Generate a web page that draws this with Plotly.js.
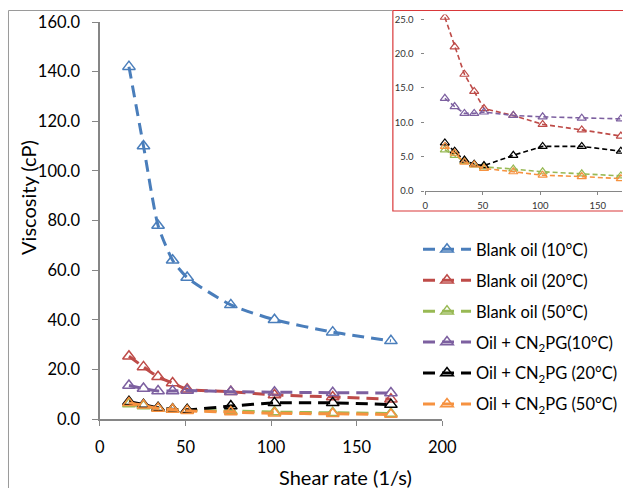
<!DOCTYPE html>
<html>
<head>
<meta charset="utf-8">
<script src="https://cdn.plot.ly/plotly-3.0.1.min.js"></script>
<style>html,body{margin:0;padding:0;background:#fff;}#chart{width:623px;height:488px;}</style>
</head>
<body>
<div id="chart"></div>
<script>
// Data
const shearRate = [17, 25.5, 34, 42.5, 51, 76.5, 102, 136, 170];
const blank10 = [142, 110, 78, 64, 57, 46, 40, 35, 31.5];
const blank20 = [25.3, 21.0, 17.0, 14.5, 12.0, 11.0, 9.7, 8.9, 8.0];
const blank50 = [6.0, 5.2, 4.3, 3.8, 3.5, 3.2, 2.8, 2.5, 2.2];
const cn10 = [13.5, 12.3, 11.3, 11.3, 11.5, 11.0, 10.8, 10.6, 10.5];
const cn20 = [7.0, 5.8, 4.5, 3.9, 3.7, 5.2, 6.5, 6.5, 5.8];
const cn50 = [6.5, 5.5, 4.2, 3.8, 3.3, 2.8, 2.3, 2.1, 1.8];
const seriesNames = ['Blank oil (10°C)', 'Blank oil (20°C)', 'Blank oil (50°C)',
  'Oil + CN<sub>2</sub>PG(10°C)', 'Oil + CN<sub>2</sub>PG (20°C)', 'Oil + CN<sub>2</sub>PG (50°C)'];
const seriesColors = ['#4A7EBB', '#BE4B48', '#98B954', '#7D60A0', '#000000', '#F69240'];
const mainTicksY = [0, 20, 40, 60, 80, 100, 120, 140, 160];
const insetTicksY = [0, 5, 10, 15, 20, 25];

const allSeries = [blank10, blank20, blank50, cn10, cn20, cn50];
const traces = [];
allSeries.forEach((ys, i) => {
  traces.push({
    x: shearRate, y: ys, type: 'scatter', mode: 'lines+markers',
    name: seriesNames[i], legendgroup: 'g' + i,
    line: {color: seriesColors[i], width: 3, dash: '12px,7px', shape: 'spline', smoothing: 0.6},
    marker: {symbol: 'triangle-up-open', size: 11, color: seriesColors[i], line: {width: 1.5, color: seriesColors[i]}},
    xaxis: 'x', yaxis: 'y', cliponaxis: false
  });
});
// inset (all but blank 10)
[1, 2, 3, 4, 5].forEach(i => {
  traces.push({
    x: shearRate, y: allSeries[i], type: 'scatter', mode: 'lines+markers',
    showlegend: false, name: seriesNames[i],
    line: {color: seriesColors[i], width: 1.6, dash: '5px,3px'},
    marker: {symbol: 'triangle-up-open', size: 8, color: seriesColors[i], line: {width: 1.2, color: seriesColors[i]}},
    xaxis: 'x2', yaxis: 'y2', cliponaxis: true
  });
});

const W = 623, H = 488;
const fx = p => p / W, fy = p => 1 - p / H;

const layout = {
  width: W, height: H,
  margin: {l: 0, r: 0, t: 0, b: 0},
  paper_bgcolor: '#fff', plot_bgcolor: 'rgba(0,0,0,0)',
  font: {family: 'Lato, "Open Sans", sans-serif', size: 17, color: '#000'},
  showlegend: true,
  legend: {
    x: fx(419), y: fy(232), xanchor: 'left', yanchor: 'top',
    font: {size: 16.5, color: '#000'}, tracegroupgap: 6.5, traceorder: 'grouped',
    bgcolor: 'rgba(0,0,0,0)', itemwidth: 48
  },
  xaxis: {
    domain: [fx(100), fx(443)], range: [0, 200], tickvals: [0, 50, 100, 150, 200],
    showgrid: false, zeroline: false, showline: true, linecolor: '#868686', linewidth: 1.5,
    ticks: 'outside', ticklen: 5, tickcolor: '#868686', ticklabelstandoff: 8,
    anchor: 'y', tickfont: {size: 16.5}
  },
  yaxis: {
    domain: [fy(419), fy(22)], range: [0, 160], tickvals: mainTicksY, tickformat: '.1f',
    showgrid: false, zeroline: false, showline: true, linecolor: '#868686', linewidth: 1.5,
    ticks: 'outside', ticklen: 6, tickcolor: '#868686', ticklabelstandoff: 9,
    anchor: 'x', tickfont: {size: 16.5}
  },
  xaxis2: {
    domain: [fx(426), 1], range: [0, 171], tickvals: [0, 50, 100, 150],
    showgrid: false, zeroline: false, showline: true, linecolor: '#868686', linewidth: 1,
    ticks: 'outside', ticklen: 3, tickcolor: '#868686', ticklabelstandoff: 3,
    anchor: 'y2', tickfont: {size: 9.5, color: '#333'}
  },
  yaxis2: {
    domain: [fy(191), fy(14.5)], range: [0, 25.7], tickvals: insetTicksY, tickformat: '.1f',
    showgrid: false, zeroline: false, showline: false,
    ticks: 'outside', ticklen: 3, tickcolor: '#868686', ticklabelstandoff: 6,
    anchor: 'x2', tickfont: {size: 9.5, color: '#333'}
  },
  shapes: [
    {type: 'line', xref: 'paper', yref: 'paper', x0: fx(8.5), x1: fx(8.5), y0: fy(10.5), y1: 0, line: {color: '#9a9a9a', width: 1}},
    {type: 'line', xref: 'paper', yref: 'paper', x0: fx(8.5), x1: fx(393), y0: fy(10.5), y1: fy(10.5), line: {color: '#9a9a9a', width: 1}},
    {type: 'rect', xref: 'paper', yref: 'paper', x0: fx(393.5), x1: fx(625), y0: fy(211), y1: fy(10.5), fillcolor: '#fff', line: {color: '#D9383A', width: 1.2}, layer: 'below'}
  ],
  annotations: [
    {text: 'Viscosity (cP)', xref: 'paper', yref: 'paper', x: fx(28), y: fy(197), textangle: -90, showarrow: false, font: {size: 20}, xanchor: 'center', yanchor: 'middle'},
    {text: 'Shear rate (1/s)', xref: 'paper', yref: 'paper', x: fx(346), y: fy(477), showarrow: false, font: {size: 20}, xanchor: 'center', yanchor: 'middle'}
  ]
};

Plotly.newPlot('chart', traces, layout, {displayModeBar: false, staticPlot: true});
</script>
</body>
</html>
